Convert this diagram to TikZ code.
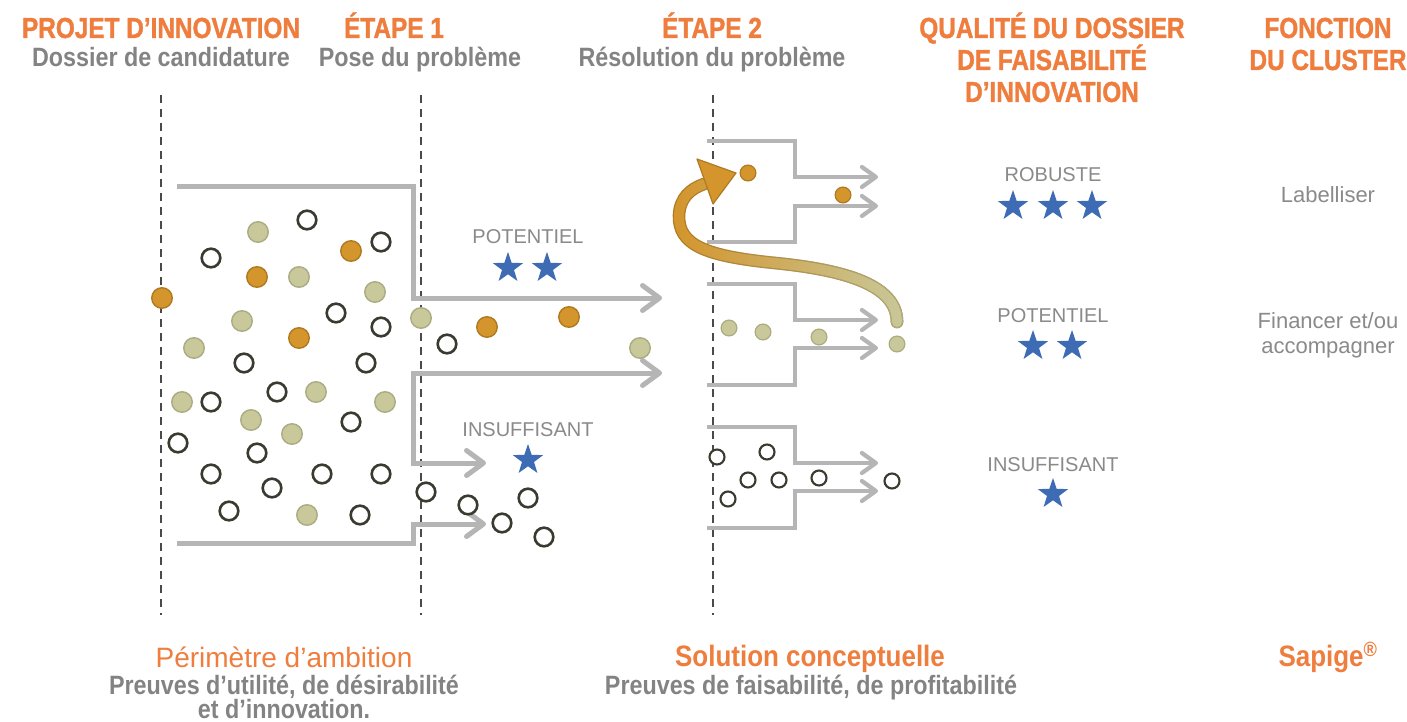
\documentclass[tikz,border=0pt]{standalone}
\usepackage{fontspec}
\setmainfont{Liberation Sans}
\newfontfamily\hdfont[FakeStretch=0.84,FakeBold=1.2]{Liberation Sans Bold}
\newfontfamily\mdfont[FakeStretch=0.88]{Liberation Sans Bold}
\usetikzlibrary{arrows.meta,fadings}
\definecolor{orng}{HTML}{EF7D3D}
\definecolor{txtgray}{HTML}{838383}
\definecolor{lblgray}{HTML}{8A8A8A}
\definecolor{linegray}{HTML}{B5B5B5}
\definecolor{dashgray}{HTML}{4A4A4A}
\definecolor{starblue}{HTML}{3D6BB4}
\definecolor{khakif}{HTML}{C8C89A}
\definecolor{khakid}{HTML}{ABAB84}
\definecolor{ochref}{HTML}{D4952C}
\definecolor{ochred}{HTML}{B07A20}
\definecolor{ringd}{HTML}{3A3A30}
\tikzfading[name=fadeleft, left color=transparent!100, middle color=transparent!75, right color=transparent!0]
\begin{document}
\begin{tikzpicture}[x=1pt,y=-1pt,
  hdr/.style={font=\hdfont\fontsize{29}{32}\selectfont, text=orng, anchor=base, inner sep=0pt},
  sub/.style={font=\mdfont\fontsize{26.5}{30}\selectfont, text=txtgray, anchor=base, inner sep=0pt},
  btitle/.style={font=\fontsize{28}{32}\selectfont, text=orng, anchor=base, inner sep=0pt},
  stitle/.style={font=\mdfont\fontsize{29.5}{32}\selectfont, text=orng, anchor=base, inner sep=0pt},
  lbl/.style={font=\fontsize{20}{24}\selectfont, text=lblgray, anchor=base, inner sep=0pt},
  fn/.style={font=\fontsize{22}{26}\selectfont, text=lblgray, anchor=base, inner sep=0pt},
  ring/.style={circle, draw=ringd, fill=white, line width=2.6pt, minimum size=18.6pt, inner sep=0pt},
  khk/.style={circle, draw=khakid, fill=khakif, line width=1.4pt, minimum size=20.5pt, inner sep=0pt},
  ochre/.style={circle, draw=ochred, fill=ochref, line width=1.4pt, minimum size=20.5pt, inner sep=0pt},
  sring/.style={ring, line width=2.1pt, minimum size=15pt},
  skhk/.style={khk, line width=1.2pt, minimum size=15.8pt},
  sochre/.style={ochre, line width=1.2pt, minimum size=15.8pt},
  dashline/.style={draw=dashgray, line width=1.1pt, dash pattern=on 8pt off 6pt},
  funnel/.style={draw=linegray, line width=5pt, line join=miter},
  barb/.tip={Straight Barb[length=17pt,width=25pt,round]},
  sbarb/.tip={Straight Barb[length=14pt,width=20pt,round]},
  rline/.style={draw=linegray, line width=4.2pt, line join=miter, -sbarb},
  bstar/.pic={\fill[starblue] (270:16) -- (306:6.3) -- (342:16) -- (18:6.3) -- (54:16) -- (90:6.3) -- (126:16) -- (162:6.3) -- (198:16) -- (234:6.3) -- cycle;}
]
\fill[white] (0,0) rectangle (1407,722);
\useasboundingbox (0,0) rectangle (1407,722);

% headers
\node[hdr] (h1) at (161,38) {PROJET D’INNOVATION};
\node[sub] (h1s) at (161,67) {Dossier de candidature};
\node[hdr] (h2) at (394,38) {ÉTAPE 1};
\node[sub] (h2s) at (420,67) {Pose du problème};
\node[hdr] (h3) at (712,38) {ÉTAPE 2};
\node[sub] (h3s) at (712,67) {Résolution du problème};
\node[hdr] (h4a) at (1052,38) {QUALITÉ DU DOSSIER};
\node[hdr] (h4b) at (1052,70) {DE FAISABILITÉ};
\node[hdr] (h4c) at (1052,102) {D’INNOVATION};
\node[hdr] (h5a) at (1328,38) {FONCTION};
\node[hdr] (h5b) at (1328,70) {DU CLUSTER};

% dashed stage lines
\coordinate (d1t) at (161,95); \coordinate (d1b) at (161,615);
\coordinate (d2t) at (421,95); \coordinate (d2b) at (421,615);
\coordinate (d3t) at (713,95); \coordinate (d3b) at (713,615);
\draw[dashline] (d1t) -- (d1b);
\draw[dashline] (d2t) -- (d2b);
\draw[dashline] (d3t) -- (d3b);

% left funnel
\draw[funnel, -barb] (177,187) -- (413,187) -- (413,298) -- (662,298);
\draw[funnel, barb-barb] (662,373) -- (413,373) -- (413,463) -- (486,463);
\draw[funnel, -barb] (177,543) -- (413,543) -- (413,524) -- (486,524);

% right brackets
\draw[rline] (707,141) -- (795,141) -- (795,177) -- (878,177);
\draw[rline] (707,242) -- (795,242) -- (795,206) -- (878,206);
\draw[rline] (707,284) -- (795,284) -- (795,320) -- (878,320);
\draw[rline] (707,385) -- (795,385) -- (795,348) -- (878,348);
\draw[rline] (707,427) -- (795,427) -- (795,463) -- (878,463);
\draw[rline] (707,528) -- (795,528) -- (795,491) -- (878,491);

% circles left
\foreach \x/\y [count=\i] in {307/220,211/258,381/242,336/313,381/327,244/363,366/363,211/402,277/392,351/422,178/443,257/453,211/474,322/474,381/474,272/488,426/492,229/511,360/515,447/344,468/505,528/498,502/523,544/537}
  \node[ring] (r\i) at (\x,\y) {};
\foreach \x/\y [count=\i] in {258/232,299/277,375/292,421/318,242/321,194/348,182/402,316/392,385/402,251/420,292/434,307/515,640/348}
  \node[khk] (k\i) at (\x,\y) {};
\foreach \x/\y [count=\i] in {351/251,257/277,162/298,299/338,487/327,569/317}
  \node[ochre] (o\i) at (\x,\y) {};

% circles right
\foreach \x/\y [count=\i] in {748/173,843/195}
  \node[sochre] (so\i) at (\x,\y) {};
\foreach \x/\y [count=\i] in {729/328,763/332,819/337,897/344}
  \node[skhk] (sk\i) at (\x,\y) {};
\foreach \x/\y [count=\i] in {717/457,767/452,748/480,779/480,728/499,819/478,892/481}
  \node[sring] (sr\i) at (\x,\y) {};

% curved promotion arrow
\draw[ochred, line width=12.6pt, line cap=round] (897,322) .. controls (897,285) and (845,270) .. (775,263) .. controls (705,256) and (678,245) .. (679,215) .. controls (680,198) and (690,189) .. (704,184);
\draw[khakid, line width=12.6pt, line cap=round, path fading=fadeleft] (897,322) .. controls (897,285) and (845,270) .. (775,263) .. controls (705,256) and (678,245) .. (679,215) .. controls (680,198) and (690,189) .. (704,184);
\draw[ochref, line width=10pt, line cap=round] (897,322) .. controls (897,285) and (845,270) .. (775,263) .. controls (705,256) and (678,245) .. (679,215) .. controls (680,198) and (690,189) .. (704,184);
\draw[khakif, line width=10pt, line cap=round, path fading=fadeleft] (897,322) .. controls (897,285) and (845,270) .. (775,263) .. controls (705,256) and (678,245) .. (679,215) .. controls (680,198) and (690,189) .. (704,184);
\filldraw[fill=ochref, draw=ochred, line width=1.2pt, line join=round] (697,159) -- (736,173) -- (713,204) -- cycle;

% middle labels and stars
\node[lbl] (mp) at (528,243) {POTENTIEL};
\pic at (508,268) {bstar};
\pic at (547,268) {bstar};
\node[lbl] (mi) at (528,436) {INSUFFISANT};
\pic at (528,460) {bstar};

% quality column
\node[lbl] (qr) at (1053,182) {ROBUSTE};
\pic at (1013,206) {bstar};
\pic at (1053,206) {bstar};
\pic at (1092,206) {bstar};
\node[lbl] (qp) at (1053,322) {POTENTIEL};
\pic at (1033,346) {bstar};
\pic at (1072,346) {bstar};
\node[lbl] (qi) at (1053,471) {INSUFFISANT};
\pic at (1053,494) {bstar};

% function column
\node[fn] (f1) at (1328,202) {Labelliser};
\node[fn] (f2) at (1328,328) {Financer et/ou};
\node[fn] (f3) at (1328,353) {accompagner};

% bottom
\node[btitle] (b1) at (284,667) {Périmètre d’ambition};
\node[sub] (b1a) at (284,694) {Preuves d’utilité, de désirabilité};
\node[sub] (b1b) at (284,718) {et d’innovation.};
\node[stitle] (b2) at (810,666) {Solution conceptuelle};
\node[sub] (b2a) at (811,694) {Preuves de faisabilité, de profitabilité};
\node[stitle] (b3) at (1328,666) {Sapige\textsuperscript{®}};
\end{tikzpicture}
\end{document}
